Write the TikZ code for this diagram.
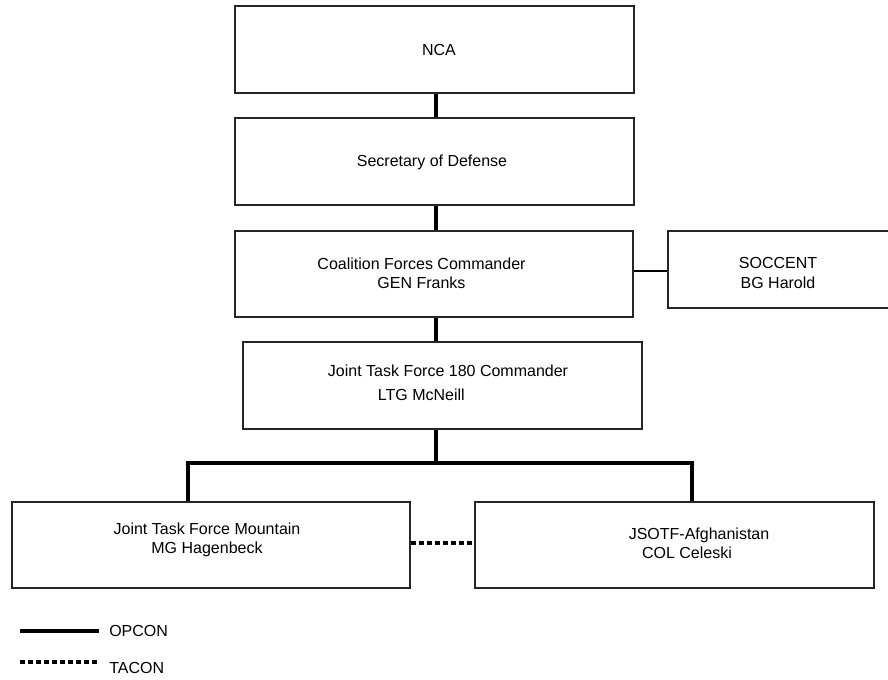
\documentclass[tikz,border=0pt]{standalone}
\usepackage{fontspec}
\setmainfont{Liberation Sans}

\begin{document}
\begin{tikzpicture}[x=0.75pt, y=-0.75pt, font=\fontsize{12}{14.4}\selectfont,
  unit/.style = {draw=black!85, line width=0.9pt, rectangle, inner sep=0pt,
                 minimum width=299.25pt, minimum height=65.25pt},
  title/.style = {align=center, inner sep=0pt},
  opcon/.style = {line width=3pt},
  tacon/.style = {line width=3pt, dash pattern=on 3.75pt off 2.25pt},
  liaison/.style = {line width=0.8pt}]
\useasboundingbox (0,0) rectangle (888,679);

% command boxes
\node[unit] (nca) at (434.5,49.5) {};
\node[unit] (secdef) at (434.5,161.5) {};
\node[unit, minimum width=298.5pt, minimum height=64.5pt] (cfc) at (434,274) {};
\node[unit, minimum width=168pt, minimum height=57.75pt] (soccent) at (780,269.5) {};
\node[unit] (jtf180) at (442.5,385.5) {};
\node[unit, minimum width=298.5pt, minimum height=64.5pt] (jtfmtn) at (211,545) {};
\node[unit, minimum height=64.5pt] (jsotf) at (674.5,545) {};

% texts
\node[title] (ncaname) at (439,50) {NCA};
\node[title] (secdefname) at (432,162) {Secretary of Defense};
\node[title] (cfcname) at (421.5,273) {Coalition Forces Commander\\GEN Franks};
\node[title] (soccentname) at (778,273) {SOCCENT\\BG Harold};
\node[title, align=left] (jtf180name) at (448,383)
  {Joint Task Force 180 Commander\\[3.6pt]\hspace*{37.5pt}LTG McNeill};
\node[title] (jtfmtnname) at (207,540) {Joint Task Force Mountain\\MG Hagenbeck};
\node[title] (jsotfname) at (699,543) {JSOTF-Afghanistan\\\hspace*{-18pt}COL Celeski};

% links
\coordinate (split) at (436,463);
\draw[opcon] (nca.south -| split) -- (secdef.north -| split);
\draw[opcon] (secdef.south -| split) -- (cfc.north -| split);
\draw[opcon] (cfc.south -| split) -- (jtf180.north -| split);
\draw[opcon] (jtf180.south -| split) -- (split);
\draw[opcon] (jtfmtn.north -| 188,0) |- (split) -| (jsotf.north -| 692,0);
\draw[liaison] (cfc.east |- 0,271) -- (soccent.west |- 0,271);
\draw[tacon] (jtfmtn.east |- 0,543) -- (jsotf.west |- 0,543);

% legend
\node[anchor=west, inner xsep=7.5pt, inner ysep=0pt] (opconkey) at (99,631) {OPCON};
\coordinate (opconend) at (20,631);
\draw[opcon] (opconend) -- (opconkey.west);
\node[anchor=west, inner xsep=9pt, inner ysep=0pt] (taconkey) at (97,668) {TACON};
\coordinate (taconend) at (20,662);
\draw[tacon] (taconend) -- (taconend -| taconkey.west);
\end{tikzpicture}
\end{document}
